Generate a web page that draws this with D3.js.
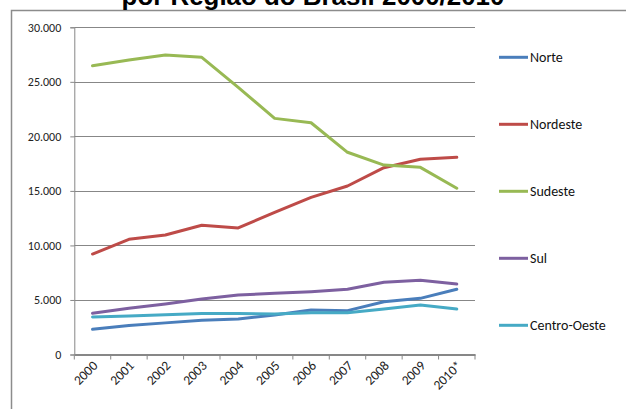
<!DOCTYPE html>
<html>
<head>
<meta charset="utf-8">
<script src="https://cdn.jsdelivr.net/npm/d3@7"></script>
<style>
  html, body { margin: 0; padding: 0; background: #fff; }
  svg { display: block; }
</style>
</head>
<body>
<svg id="chart" width="626" height="409"></svg>
<script>
// Years on the category axis
const years = ["2000", "2001", "2002", "2003", "2004", "2005", "2006", "2007", "2008", "2009", "2010*"];

// Values per region
const norte      = [2310, 2650, 2900, 3150, 3250, 3620, 4080, 4020, 4840, 5150, 5980];
const nordeste   = [9210, 10560, 10960, 11850, 11600, 13040, 14410, 15450, 17130, 17900, 18080];
const sudeste    = [26480, 27000, 27460, 27250, 24500, 21650, 21250, 18540, 17370, 17160, 15240];
const sul        = [3780, 4240, 4630, 5090, 5460, 5610, 5760, 5980, 6620, 6800, 6460];
const centroOeste = [3440, 3520, 3650, 3750, 3760, 3710, 3830, 3830, 4170, 4540, 4170];

const regionNames = ["Norte", "Nordeste", "Sudeste", "Sul", "Centro-Oeste"];
const regionColors = ["#4A7EBB", "#BE4B48", "#98B954", "#7D60A0", "#46AAC5"];
const yTicks = [0, 5000, 10000, 15000, 20000, 25000, 30000];

const titleText = "por Região do Brasil 2000/2010";

const series = [norte, nordeste, sudeste, sul, centroOeste].map((values, i) => ({
  name: regionNames[i], color: regionColors[i], values
}));

const svg = d3.select("#chart");
const fontFamily = "Calibri, Carlito, 'Liberation Sans', Arial, sans-serif";

const x = d3.scaleBand().domain(years).range([74.3, 475]).padding(0);
const y = d3.scaleLinear().domain([0, 30000]).range([354.5, 27.3]);

const ptBR = d3.formatLocale({ decimal: ",", thousands: ".", grouping: [3], currency: ["R$", ""] });
const fmt = ptBR.format(",.0f");

// Outer frame
svg.append("path")
  .attr("d", "M11.5,430 V10.5 H640")
  .attr("fill", "none")
  .attr("stroke", "#8c8c8c")
  .attr("stroke-width", 1.5);

// Title (last line)
const title = svg.append("text")
  .attr("x", 313)
  .attr("y", 5)
  .attr("text-anchor", "middle")
  .attr("font-family", "'Liberation Sans', Arial, sans-serif")
  .attr("font-weight", "bold")
  .attr("font-size", 22)
  .attr("fill", "#000")
  .text(titleText);
const tw = title.node().getComputedTextLength();
title.attr("font-size", 22 * 383 / tw);

// Horizontal gridlines
svg.append("g")
  .selectAll("line")
  .data(yTicks.filter(d => d > 0))
  .join("line")
  .attr("x1", x.range()[0])
  .attr("x2", x.range()[1])
  .attr("y1", d => Math.round(y(d)) + 0.5)
  .attr("y2", d => Math.round(y(d)) + 0.5)
  .attr("stroke", "#878787")
  .attr("stroke-width", 1);

// Y axis
const yAxis = svg.append("g")
  .attr("transform", `translate(${x.range()[0]},0)`)
  .call(d3.axisLeft(y).tickValues(yTicks).tickFormat(fmt).tickSize(4).tickPadding(9));
yAxis.select(".domain").attr("stroke", "#878787");
yAxis.selectAll(".tick line").attr("stroke", "#878787");
yAxis.selectAll("text")
  .attr("font-family", fontFamily)
  .attr("font-size", 12)
  .attr("fill", "#222");

// X axis
const xAxis = svg.append("g")
  .attr("transform", `translate(0,${y(0)})`)
  .call(d3.axisBottom(x).tickSize(0).tickFormat(""));
xAxis.select(".domain").attr("stroke", "#878787").attr("stroke-width", 2);

// Category boundary ticks
const bounds = years.map(d => x(d)).concat([x.range()[1]]);
svg.append("g")
  .selectAll("line")
  .data(bounds)
  .join("line")
  .attr("x1", d => d)
  .attr("x2", d => d)
  .attr("y1", y(0))
  .attr("y2", y(0) + 5)
  .attr("stroke", "#878787");

// Rotated year labels
svg.append("g")
  .selectAll("text")
  .data(years)
  .join("text")
  .attr("transform", d => `translate(${x(d) + x.bandwidth() / 2 + 6},${y(0) + 12}) rotate(-45)`)
  .attr("text-anchor", "end")
  .attr("font-family", fontFamily)
  .attr("font-size", 13.5)
  .attr("fill", "#222")
  .text(d => d);

// Lines
const line = d3.line()
  .x((d, i) => x(years[i]) + x.bandwidth() / 2)
  .y(d => y(d));

svg.append("g")
  .selectAll("path")
  .data(series)
  .join("path")
  .attr("d", d => line(d.values))
  .attr("fill", "none")
  .attr("stroke", d => d.color)
  .attr("stroke-width", 3)
  .attr("stroke-linejoin", "round")
  .attr("stroke-linecap", "round");

// Legend
const legend = svg.append("g")
  .selectAll("g")
  .data(series)
  .join("g")
  .attr("transform", (d, i) => `translate(499,${57.3 + i * 67})`);
legend.append("line")
  .attr("x1", 0).attr("x2", 29)
  .attr("y1", 0).attr("y2", 0)
  .attr("stroke", d => d.color)
  .attr("stroke-width", 3);
legend.append("text")
  .attr("x", 31)
  .attr("y", 0)
  .attr("dy", "0.35em")
  .attr("font-family", fontFamily)
  .attr("font-size", 14)
  .attr("fill", "#111")
  .text(d => d.name);
</script>
</body>
</html>
